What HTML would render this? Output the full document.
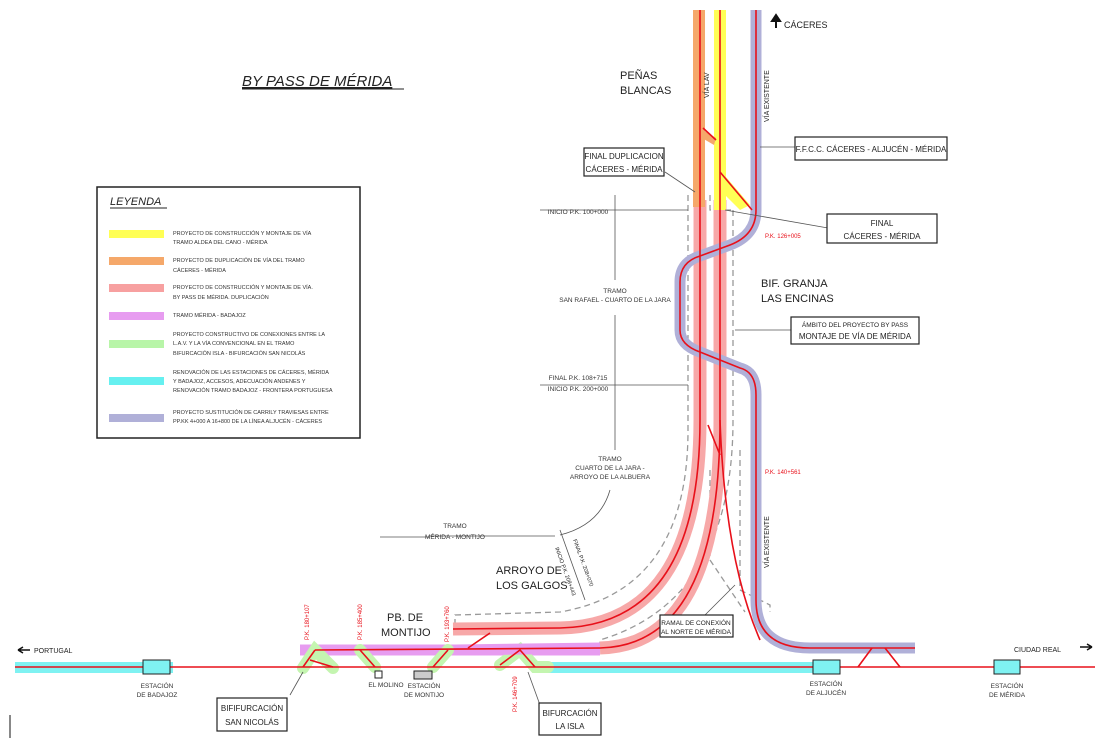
<!DOCTYPE html>
<html><head><meta charset="utf-8"><style>
html,body{margin:0;padding:0;background:#fff;}
svg{display:block;font-family:"Liberation Sans",sans-serif;}
</style></head><body>
<svg width="1104" height="741" viewBox="0 0 1104 741" xmlns="http://www.w3.org/2000/svg">
<rect width="1104" height="741" fill="#fff"/>
<!-- title -->
<text x="242" y="86" font-size="15" font-style="italic" fill="#222" text-decoration="underline">BY PASS DE MÉRIDA</text>
<line x1="242" y1="89" x2="404" y2="89" stroke="#222" stroke-width="1"/>

<!-- legend -->
<rect x="97" y="187" width="263" height="251" fill="#fff" stroke="#222" stroke-width="1.5"/>
<text x="110" y="205" font-size="11" font-style="italic" fill="#222">LEYENDA</text>
<line x1="110" y1="208" x2="167" y2="208" stroke="#222"/>
<g font-size="5.5" fill="#333">
<rect x="109" y="230" width="55" height="8" fill="#ffff55"/>
<text x="173" y="235">PROYECTO DE CONSTRUCCIÓN Y MONTAJE DE VÍA</text><text x="173" y="244">TRAMO ALDEA DEL CANO - MÉRIDA</text>
<rect x="109" y="257" width="55" height="8" fill="#f5a86a"/>
<text x="173" y="262">PROYECTO DE DUPLICACIÓN DE VÍA DEL TRAMO</text><text x="173" y="272">CÁCERES - MÉRIDA</text>
<rect x="109" y="284" width="55" height="8" fill="#f7a0a0"/>
<text x="173" y="289">PROYECTO DE CONSTRUCCIÓN Y MONTAJE DE VÍA.</text><text x="173" y="299">BY PASS DE MÉRIDA. DUPLICACIÓN</text>
<rect x="109" y="312" width="55" height="8" fill="#e79cf0"/>
<text x="173" y="317">TRAMO MÉRIDA - BADAJOZ</text>
<rect x="109" y="340" width="55" height="8" fill="#b8f5a8"/>
<text x="173" y="336">PROYECTO CONSTRUCTIVO DE CONEXIONES ENTRE LA</text><text x="173" y="345">L.A.V. Y LA VÍA CONVENCIONAL EN EL TRAMO</text><text x="173" y="355">BIFURCACIÓN ISLA - BIFURCACIÓN SAN NICOLÁS</text>
<rect x="109" y="377" width="55" height="8" fill="#66f0f0"/>
<text x="173" y="374">RENOVACIÓN DE LAS ESTACIONES DE CÁCERES, MÉRIDA</text><text x="173" y="383">Y BADAJOZ, ACCESOS, ADECUACIÓN ANDENES Y</text><text x="173" y="392">RENOVACIÓN TRAMO BADAJOZ - FRONTERA PORTUGUESA</text>
<rect x="109" y="414" width="55" height="8" fill="#b0b0d8"/>
<text x="173" y="414">PROYECTO SUSTITUCIÓN DE CARRILY TRAVIESAS ENTRE</text><text x="173" y="423">PP.KK 4+000 A 16+800 DE LA LÍNEA ALJUCÉN - CÁCERES</text>
</g>

<!-- dashed scope -->
<g fill="none" stroke="#999" stroke-width="1.3" stroke-dasharray="6,4">
<path d="M688 195 V430 Q688 590 560 612 L455 615 V637"/>
<path d="M710 195 V210 H735"/>
<path d="M733 210 V420 Q733 600 600 640 L600 650"/>
<path d="M740 450 V590 L770 605 V612"/>
<path d="M710 470 V560 L745 612"/>
</g>

<!-- bottom bands -->
<rect x="15" y="662" width="158" height="11" fill="#7ff2f2"/>
<rect x="548" y="662" width="292" height="11" fill="#7ff2f2"/>
<path d="M300 650 L600 650" stroke="#e79cf0" stroke-width="11" fill="none"/>
<!-- greens -->
<g stroke="#c4f5b0" stroke-width="12" fill="none" stroke-linecap="round">
<path d="M303 668 L315 650 L333 668"/><path d="M360 650 L375 667"/><path d="M433 667 L448 650"/><path d="M500 665 L520 650 L535 667 L548 667"/>
</g>

<!-- pink bands -->
<g fill="none" stroke="#f7a8a8" stroke-width="13">
<path d="M700 200 V420 Q700 625 560 628 L453 629"/>
<path d="M720 200 V420 Q720 645 600 648"/>
</g>
<path d="M600 648 L455 650" stroke="#e79cf0" stroke-width="11"/>
<!-- orange/yellow -->
<rect x="693" y="10" width="12" height="197" fill="#f5a86a"/>
<rect x="714" y="10" width="12" height="200" fill="#ffff55"/>
<path d="M720 170 L750 205 L740 210 L720 190Z" fill="#ffff55"/>
<path d="M703 130 L716 138 L714 145 L702 138Z" fill="#f5a86a"/>
<!-- lavender existing -->
<path d="M756 10 V210 Q756 235 730 245 L700 256 Q680 262 680 282 V330 Q680 345 700 352 L740 368 Q756 372 756 395 V600 Q756 648 810 648 L915 648" fill="none" stroke="#b0b0d8" stroke-width="11"/>

<!-- red lines -->
<g fill="none" stroke="#e8101a" stroke-width="1.6">
<path d="M700 10 V420 Q700 625 560 628 L453 629"/>
<path d="M720 10 V420 Q720 645 600 648 L315 650"/>
<path d="M756 10 V210 Q756 235 730 245 L700 256 Q680 262 680 282 V330 Q680 345 700 352 L740 368 Q756 372 756 395 V600 Q756 648 810 648 L915 648"/>
<path d="M720 420 Q725 560 760 640"/>
<path d="M703 128 L716 140"/><path d="M720 172 L752 210"/>
<path d="M708 425 L720 455"/>
<path d="M15 667 L1095 667"/>
<path d="M303 667 L315 650"/><path d="M310 660 L333 667"/><path d="M360 650 L375 667"/><path d="M433 667 L448 650"/><path d="M500 665 L520 650 L535 667"/>
<path d="M468 648 L490 633"/>
<path d="M858 667 L872 648"/><path d="M885 648 L900 667"/>
</g>

<!-- stations -->
<g stroke="#222" stroke-width="1">
<rect x="143" y="660" width="27" height="14" fill="#7ff2f2"/>
<rect x="813" y="660" width="27" height="14" fill="#7ff2f2"/>
<rect x="994" y="660" width="26" height="14" fill="#7ff2f2"/>
<rect x="375" y="671" width="7" height="7" fill="#fff"/>
<rect x="414" y="671" width="18" height="8" fill="#ccc"/>
</g>

<!-- dimension lines -->
<g stroke="#555" stroke-width="0.8" fill="none">
<line x1="540" y1="210" x2="688" y2="210"/>
<line x1="540" y1="385" x2="688" y2="385"/>
<line x1="615" y1="195" x2="615" y2="280"/><line x1="615" y1="315" x2="615" y2="420"/>
<line x1="615" y1="420" x2="615" y2="450"/>
<line x1="430" y1="536" x2="555" y2="536"/>
<line x1="560" y1="530" x2="585" y2="600"/>
<path d="M610 490 Q600 525 560 535"/>
<line x1="380" y1="537" x2="430" y2="537"/>
<line x1="725" y1="210" x2="828" y2="228"/>
<line x1="760" y1="147" x2="795" y2="147"/>
<line x1="735" y1="330" x2="795" y2="330"/>
<line x1="665" y1="172" x2="695" y2="192"/>
<line x1="290" y1="695" x2="303" y2="672"/>
<line x1="540" y1="705" x2="528" y2="672"/>
<line x1="705" y1="615" x2="735" y2="585"/>
</g>

<!-- label boxes -->
<g fill="#fff" stroke="#222" stroke-width="1.2">
<rect x="584" y="148" width="80" height="28"/>
<rect x="795" y="137" width="152" height="23"/>
<rect x="827" y="214" width="110" height="29"/>
<rect x="791" y="317" width="128" height="27"/>
<rect x="660" y="615" width="73" height="22"/>
<rect x="217" y="698" width="70" height="33"/>
<rect x="539" y="703" width="62" height="32"/>
</g>
<g font-size="8" fill="#222" text-anchor="middle">
<text x="624" y="159">FINAL DUPLICACION</text><text x="624" y="172">CÁCERES - MÉRIDA</text>
<text x="871" y="152">F.F.C.C. CÁCERES - ALJUCÉN - MÉRIDA</text>
<text x="882" y="226">FINAL</text><text x="882" y="239">CÁCERES - MÉRIDA</text>
<text x="855" y="327" font-size="6.5">ÁMBITO DEL PROYECTO BY PASS</text><text x="855" y="339">MONTAJE DE VÍA DE MÉRIDA</text>
<text x="696" y="625" font-size="6.5">RAMAL DE CONEXIÓN</text><text x="696" y="634" font-size="6.5">AL NORTE DE MÉRIDA</text>
<text x="252" y="711">BIFIFURCACIÓN</text><text x="252" y="725">SAN NICOLÁS</text>
<text x="570" y="716">BIFURCACIÓN</text><text x="570" y="729">LA ISLA</text>
</g>
<g font-size="11" fill="#222">
<text x="620" y="79">PEÑAS</text><text x="620" y="94">BLANCAS</text>
<text x="761" y="287">BIF. GRANJA</text><text x="761" y="302">LAS ENCINAS</text>
<text x="496" y="574">ARROYO DE</text><text x="496" y="589">LOS GALGOS</text>
<text x="387" y="621">PB. DE</text><text x="381" y="636">MONTIJO</text>
<text x="784" y="28" font-size="9">CÁCERES</text>
</g>
<path d="M776 28 V18 M772 21 L776 15 L780 21Z" stroke="#111" stroke-width="2" fill="#111"/>
<g font-size="6.5" fill="#333" text-anchor="middle">
<text x="578" y="214">INICIO P.K. 100+000</text>
<text x="615" y="293">TRAMO</text><text x="615" y="302">SAN RAFAEL - CUARTO DE LA JARA</text>
<text x="578" y="380">FINAL P.K. 108+715</text><text x="578" y="391">INICIO P.K. 200+000</text>
<text x="610" y="461">TRAMO</text><text x="610" y="470">CUARTO DE LA JARA -</text><text x="610" y="479">ARROYO DE LA ALBUERA</text>
<text x="455" y="528">TRAMO</text><text x="455" y="539">MÉRIDA - MONTIJO</text>
<text x="157" y="688">ESTACIÓN</text><text x="157" y="697">DE BADAJOZ</text>
<text x="826" y="686">ESTACIÓN</text><text x="826" y="695">DE ALJUCÉN</text>
<text x="1007" y="688">ESTACIÓN</text><text x="1007" y="697">DE MÉRIDA</text>
<text x="386" y="687">EL MOLINO</text>
<text x="424" y="688">ESTACIÓN</text><text x="424" y="697">DE MONTIJO</text>
</g>
<g font-size="6" fill="#e8101a">
<text x="765" y="238">P.K. 126+005</text>
<text x="765" y="474">P.K. 140+561</text>
<text transform="translate(309,640) rotate(-90)">P.K. 180+107</text>
<text transform="translate(362,640) rotate(-90)">P.K. 185+400</text>
<text transform="translate(449,642) rotate(-90)">P.K. 193+760</text>
<text transform="translate(517,712) rotate(-90)">P.K. 146+709</text>
</g>
<g font-size="7" fill="#222">
<text transform="translate(709,98) rotate(-90)">VÍA LAV</text>
<text transform="translate(769,122) rotate(-90)">VÍA EXISTENTE</text>
<text transform="translate(769,568) rotate(-90)">VÍA EXISTENTE</text>
<text transform="translate(555,548) rotate(70)" font-size="5.5">INICIO P.K. 208+443</text>
<text transform="translate(573,540) rotate(70)" font-size="5.5">FINAL P.K. 208+070</text>
<text x="34" y="653" font-size="7">PORTUGAL</text>
<text x="1014" y="652" font-size="7">CIUDAD REAL</text>
</g>
<path d="M18 650 H30 M18 650 L23 647 M18 650 L23 653" stroke="#111" stroke-width="1.5"/>
<path d="M1080 647 H1092 M1092 647 L1087 644 M1092 647 L1087 650" stroke="#111" stroke-width="1.5"/>
<line x1="10" y1="715" x2="10" y2="738" stroke="#111"/>
</svg>
</body></html>
